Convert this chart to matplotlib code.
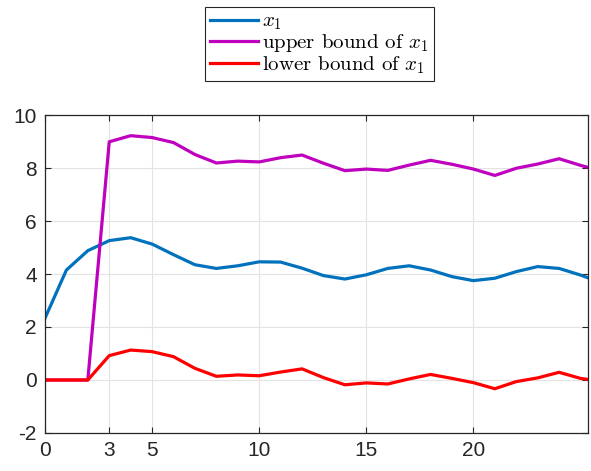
import numpy as np
import matplotlib
matplotlib.use("Agg")
import matplotlib.pyplot as plt

# time steps (last one lies just past the right axis limit)
steps = list(range(27))

x1 = [2.33, 4.15, 4.88, 5.26, 5.37, 5.13, 4.73, 4.35, 4.21, 4.31,
      4.46, 4.45, 4.22, 3.94, 3.81, 3.97, 4.21, 4.31, 4.15, 3.90,
      3.75, 3.84, 4.09, 4.28, 4.21, 3.96, 3.66]
upper = [0.0, 0.0, 0.0, 8.99, 9.22, 9.15, 8.96, 8.51, 8.19, 8.26,
         8.23, 8.39, 8.49, 8.18, 7.90, 7.96, 7.91, 8.11, 8.29, 8.14,
         7.96, 7.72, 7.99, 8.15, 8.35, 8.10, 7.88]
lower = [0.0, 0.0, 0.0, 0.92, 1.13, 1.07, 0.88, 0.44, 0.14, 0.19,
         0.16, 0.30, 0.42, 0.09, -0.18, -0.11, -0.15, 0.04, 0.21, 0.06,
         -0.10, -0.33, -0.06, 0.08, 0.29, 0.06, -0.05]

xticks = [0, 3, 5, 10, 15, 20]
yticks = [-2, 0, 2, 4, 6, 8, 10]

plt.rcParams["mathtext.fontset"] = "cm"
plt.rcParams["font.family"] = "Liberation Sans"
plt.rcParams["axes.unicode_minus"] = False

fig = plt.figure(figsize=(5.91, 4.71), dpi=100)
ax = fig.add_axes([0.0761, 0.0807, 0.9189, 0.6751])

ax.plot(steps, x1, color="#0072BD", linewidth=2.3, label=r"$x_1$")
ax.plot(steps, upper, color="#BF00BF", linewidth=2.3,
        label=r"upper bound of $x_1$")
ax.plot(steps, lower, color="#FF0000", linewidth=2.3,
        label=r"lower bound of $x_1$")

ax.set_xlim(0, 25.35)
ax.set_ylim(-2, 10)
ax.set_xticks(xticks)
ax.set_yticks(yticks)
ax.tick_params(direction="in", top=True, right=True, length=4,
               width=0.8, colors="#262626", labelsize=15, pad=6)
ax.grid(True, color="#e3e3e3", linewidth=0.8)
ax.set_axisbelow(True)
for s in ax.spines.values():
    s.set_color("#262626")
    s.set_linewidth(0.9)

leg = fig.legend(loc="upper center", bbox_to_anchor=(0.54, 0.985),
                 borderaxespad=0,
                 prop={"family": "cmr10", "size": 15},
                 handlelength=2.3, handletextpad=0.2,
                 labelspacing=0.0, borderpad=0.25,
                 fancybox=False, framealpha=1, edgecolor="#262626")
leg.get_frame().set_linewidth(0.8)

fig.savefig("out.png", dpi=100)
